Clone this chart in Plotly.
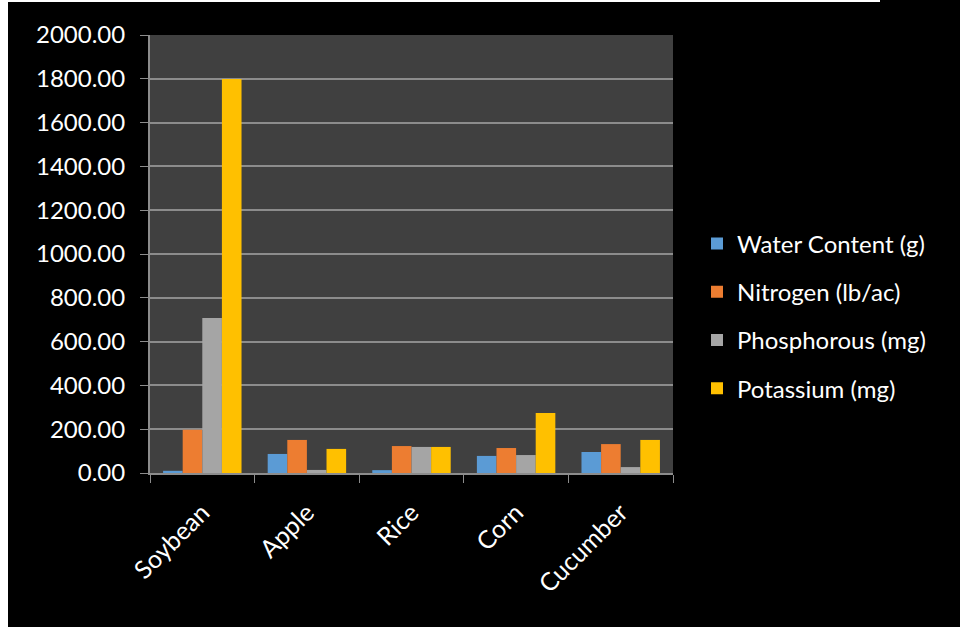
import plotly.graph_objects as go

categories = ["Soybean", "Apple", "Rice", "Corn", "Cucumber"]
water = [10, 87, 13, 78, 96]
nitrogen = [198, 151, 123, 114, 132]
phosphorous = [708, 14, 119, 82, 27]
potassium = [1799, 110, 119, 274, 151]
series_names = ["Water Content (g)", "Nitrogen (lb/ac)", "Phosphorous (mg)", "Potassium (mg)"]
colors = ["#5B9BD5", "#ED7D31", "#A5A5A5", "#FFC000"]
y_ticks = [0, 200, 400, 600, 800, 1000, 1200, 1400, 1600, 1800, 2000]

FONT = "Lato"
fig = go.Figure()
for i, (name, vals, c) in enumerate(zip(series_names, [water, nitrogen, phosphorous, potassium], colors)):
    fig.add_trace(go.Bar(name=name, x=categories, y=vals, legendgroup=f"g{i}",
                         marker=dict(color=c, line=dict(width=0))))

W, H = 960, 627
L, R, T, B = 150, 287, 35, 154
pw, ph = W - L - R, H - T - B

def px(x):
    return (x - L) / pw

def py(y):
    return (H - B - y) / ph

fig.update_layout(
    width=W, height=H,
    margin=dict(l=L, r=R, t=T, b=B, pad=0),
    paper_bgcolor="black",
    plot_bgcolor="#404040",
    barmode="group",
    bargap=0.25,
    bargroupgap=0,
    font=dict(family=FONT, color="white", size=24),
    legend=dict(x=px(697), y=py(316), xanchor="left", yanchor="middle",
                font=dict(family=FONT, size=24, color="white"),
                itemsizing="constant", tracegroupgap=14, itemwidth=30,
                bgcolor="rgba(0,0,0,0)"),
    xaxis=dict(showgrid=False, showline=True, linecolor="#8c8c8c", linewidth=2,
               ticks="outside", tickson="boundaries", ticklen=8, tickcolor="#8c8c8c",
               tickwidth=1, tickangle=-45, ticklabelstandoff=13,
               tickfont=dict(family=FONT, size=25, color="white"),
               mirror=False),
    yaxis=dict(range=[0, 2000], tickvals=y_ticks, tickformat=".2f",
               showgrid=True, gridcolor="#8c8c8c", gridwidth=2,
               showline=True, linecolor="#8c8c8c", linewidth=2,
               ticks="outside", ticklen=8, tickcolor="#8c8c8c", tickwidth=1,
               ticklabelstandoff=10,
               tickfont=dict(family=FONT, size=24, color="white"), zeroline=False),
    shapes=[
        dict(type="rect", xref="paper", yref="paper", x0=px(0), x1=px(8), y0=py(627), y1=py(0),
             fillcolor="white", line=dict(width=0), layer="above"),
        dict(type="rect", xref="paper", yref="paper", x0=px(0), x1=px(880), y0=py(2), y1=py(0),
             fillcolor="white", line=dict(width=0), layer="above"),
    ],
)

fig.write_html("out.html")
